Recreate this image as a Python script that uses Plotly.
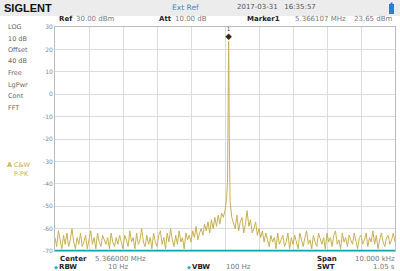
import numpy as np
import plotly.graph_objects as go

# ---- data (offset from centre frequency, Hz; level dBm) ----
center_mhz = 5.366000
span_hz = 10000
noise_step_offsets = np.arange(-5000, 5001, 50)
trace_levels = [
    -64, -68, -61, -66, -69, -63, -67, -62, -68, -65, -60, -66, -69, -64, -67, -62, -68, -66, -63, -69,
    -65, -61, -67, -64, -69, -62, -66, -68, -63, -65, -67, -64, -69, -62, -66, -68, -64, -67, -63, -66,
    -69, -63, -65, -68, -61, -66, -64, -69, -62, -67, -65, -60, -66, -68, -63, -67, -64, -69, -62, -66,
    -68, -63, -61, -67, -64, -69, -62, -66, -60, -65, -68, -63, -67, -61, -66, -64, -69, -62, -65, -63,
    -66, -61, -64, -59, -65, -62, -60, -63, -58, -61, -57, -62, -56, -60, -55, -59, -54, -58, -53, -55,
    -52, -46, 18, -48, -55, -58, -60, -54, -61, -57, -55, -62, -58, -52, -59, -56, -62, -60, -57, -63,
    -60, -64, -61, -66, -62, -65, -68, -63, -66, -64, -69, -62, -67, -65, -63, -68, -66, -62, -69, -64,
    -67, -63, -66, -69, -62, -65, -68, -64, -61, -67, -65, -69, -63, -66, -68, -62, -65, -67, -64, -69,
    -62, -66, -64, -68, -63, -61, -67, -65, -69, -62, -66, -64, -68, -63, -65, -67, -62, -66, -69, -64,
    -63, -67, -65, -62, -68, -64, -66, -61, -67, -63, -69, -65, -62, -66, -68, -64, -63, -67, -65, -62, -66,
]
peak_offsets = [75, 88, 98, 107, 116, 126, 138]
peak_levels = [-38, -12, 12, 23.65, 10, -18, -40]
marker_offset = 107
marker_level = 23.65
y_ticks = [30, 20, 10, 0, -10, -20, -30, -40, -50, -60, -70]

xs = list(noise_step_offsets) + peak_offsets
ys = trace_levels + peak_levels
order = np.argsort(xs, kind="stable")
xs = [xs[i] for i in order]
ys = [ys[i] for i in order]

W, H = 400, 271
L, R, T, B = 55, 5, 27, 20
pw, ph = W - L - R, H - T - B

def px(x):
    return (x - L) / pw

def py(y):
    return (H - B - y) / ph

fig = go.Figure()
fig.add_trace(go.Scatter(x=xs, y=ys, mode="lines",
                         line=dict(color="#c8b050", width=1), hoverinfo="skip"))
fig.add_trace(go.Scatter(x=[-5000, 5000], y=[-70, -70], mode="lines",
                         line=dict(color="#1b9ea4", width=2.5), hoverinfo="skip"))
fig.add_trace(go.Scatter(x=[marker_offset], y=[marker_level + 2], mode="markers+text",
                         marker=dict(symbol="diamond", size=5, color="#3a2a10"),
                         text=["1"], textposition="top center",
                         textfont=dict(size=5, color="#333"), hoverinfo="skip"))

FONT = "DejaVu Sans"
fig.update_layout(
    width=W, height=H, margin=dict(l=L, r=R, t=T, b=B),
    paper_bgcolor="white", plot_bgcolor="white", showlegend=False,
    font=dict(family=FONT, size=7, color="#555"),
    xaxis=dict(range=[-span_hz / 2, span_hz / 2], dtick=1000, showticklabels=False,
               showgrid=True, gridcolor="#dcdcdc", gridwidth=1, zeroline=False,
               showline=True, linecolor="#bbbbbb", mirror=True, fixedrange=True),
    yaxis=dict(range=[-70, 30], tickvals=y_ticks, ticktext=[str(v) for v in y_ticks],
               showgrid=True, gridcolor="#dcdcdc", gridwidth=1, zeroline=False,
               showline=True, linecolor="#bbbbbb", mirror=True,
               tickfont=dict(size=6, color="#888"), ticks="", ticklen=0, fixedrange=True),
)

shapes = [
    dict(type="rect", xref="paper", yref="paper", x0=px(0), x1=px(W), y0=py(16), y1=py(0),
         fillcolor="#ececec", line=dict(width=0), layer="below"),
    dict(type="rect", xref="paper", yref="paper", x0=px(389), x1=px(394), y0=py(14), y1=py(4),
         fillcolor="#2a7fd4", line=dict(width=0)),
    dict(type="rect", xref="paper", yref="paper", x0=px(390.5), x1=px(392.5), y0=py(4), y1=py(2.5),
         fillcolor="#2a7fd4", line=dict(width=0)),
]
fig.update_layout(shapes=shapes)

def txt(x, y, s, color="#555", size=7, anchor="left", bold=False, family=FONT):
    if bold:
        s = "<b>" + s + "</b>"
    fig.add_annotation(x=px(x), y=py(y), xref="paper", yref="paper", text=s, showarrow=False,
                       xanchor=anchor, yanchor="middle",
                       font=dict(size=size, color=color, family=family))

txt(2, 8, "SIGLENT", color="#111", size=11, bold=True, family="Liberation Sans")
txt(170, 7, "Ext Ref", color="#3a8fc8", size=7.5)
txt(235, 7, "2017-03-31   16:35:57", color="#555", size=7)

txt(57, 19, "Ref", color="#222", size=7, bold=True)
txt(74, 19, "30.00 dBm", color="#777", size=7)
txt(157, 19, "Att", color="#222", size=7, bold=True)
txt(173, 19, "10.00 dB", color="#777", size=7)
txt(245, 19, "Marker1", color="#222", size=7, bold=True)
txt(293, 19, "5.366107 MHz", color="#777", size=7)
txt(395, 19, "23.65 dBm", color="#777", size=7, anchor="right")

left_labels = ["LOG", "10 dB", "Offset", "40 dB", "Free", "LgPwr", "Cont", "FFT"]
for i, s in enumerate(left_labels):
    txt(6, 27 + i * 11.5, s, color="#666", size=6.5)
txt(5, 165, "A", color="#c8b050", size=6.5, bold=True)
txt(12, 165, "C&W", color="#c8b050", size=6.5)
txt(12, 174, "P-PK", color="#c8b050", size=6.5)

txt(58, 259, "Center", color="#222", size=7, bold=True)
txt(93, 259, "5.366000 MHz", color="#777", size=7)
txt(315, 259, "Span", color="#222", size=7, bold=True)
txt(397, 259, "10.000 kHz", color="#777", size=7, anchor="right")
txt(52, 267, "◆", color="#2ab0c0", size=5)
txt(57, 267, "RBW", color="#222", size=7, bold=True)
txt(118, 267, "10 Hz", color="#777", size=7, anchor="center")
txt(185, 267, "◆", color="#2ab0c0", size=5)
txt(190, 267, "VBW", color="#222", size=7, bold=True)
txt(238, 267, "100 Hz", color="#777", size=7, anchor="center")
txt(315, 267, "SWT", color="#222", size=7, bold=True)
txt(397, 267, "1.05 s", color="#777", size=7, anchor="right")

fig.write_html("out.html")
